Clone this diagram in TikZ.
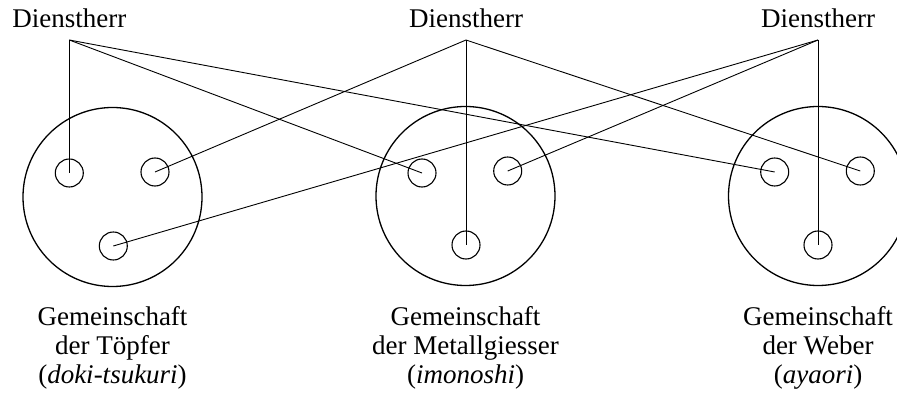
\documentclass[tikz,border=0pt]{standalone}
\usepackage{fontspec}
\setmainfont{Liberation Serif}
\begin{document}
\begin{tikzpicture}[x=1pt,y=-1pt,
  big/.style={draw,circle,line width=1.3pt,minimum size=179pt,inner sep=0pt},
  small/.style={draw,circle,line width=1.1pt,minimum size=28pt,inner sep=0pt},
  link/.style={line width=0.9pt},
  lbl/.style={font=\fontsize{27}{29}\selectfont,inner sep=0pt,align=center,anchor=base}]
\useasboundingbox (0,0) rectangle (897,398);
\clip (0,0) rectangle (897,398);
% Dienstherr labels and apex points
\node[lbl] (dL) at (69.3,28) {Dienstherr};
\node[lbl] (dM) at (466,28) {Dienstherr};
\node[lbl] (dR) at (818,28) {Dienstherr};
\coordinate (aL) at (69.3,40);
\coordinate (aM) at (466,40);
\coordinate (aR) at (818,40);
% communities
\node[big] (gL) at (112.5,197) {};
\node[big] (gM) at (465.5,196) {};
\node[big] (gR) at (818,196) {};
\node[small] (L1) at (69.3,173) {};
\node[small] (L2) at (155,172) {};
\node[small] (L3) at (113.3,246) {};
\node[small] (M1) at (422,173) {};
\node[small] (M2) at (507.7,171) {};
\node[small] (M3) at (466,245) {};
\node[small] (R1) at (774.7,172) {};
\node[small] (R2) at (860.3,171) {};
\node[small] (R3) at (818,245) {};
% links
\draw[link] (aL) -- (L1.center);
\draw[link] (aL) -- (M1.center);
\draw[link] (aL) -- (R1.center);
\draw[link] (aM) -- (L2.center);
\draw[link] (aM) -- (M3.center);
\draw[link] (aM) -- (R2.center);
\draw[link] (aR) -- (L3.center);
\draw[link] (aR) -- (M2.center);
\draw[link] (aR) -- (R3.center);
% captions (base anchor = baseline of last line)
\node[lbl] (tL) at (112.5,383) {Gemeinschaft\\der Töpfer\\(\textit{doki-tsukuri})};
\node[lbl] (tM) at (465.5,383) {Gemeinschaft\\der Metallgiesser\\(\textit{imonoshi})};
\node[lbl] (tR) at (818,383) {Gemeinschaft\\der Weber\\(\textit{ayaori})};
\end{tikzpicture}
\end{document}
